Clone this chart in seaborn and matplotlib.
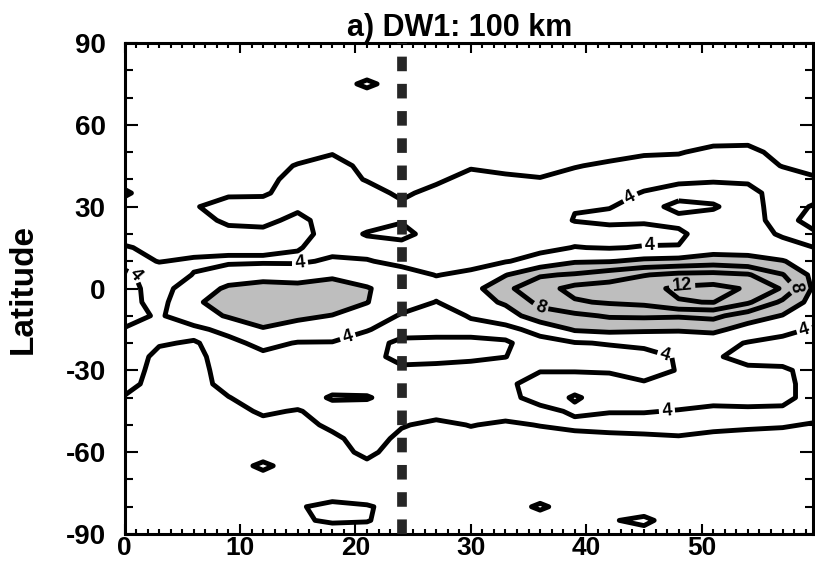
import numpy as np
import pandas as pd
import matplotlib
matplotlib.use("Agg")
import matplotlib.pyplot as plt
from matplotlib.ticker import MultipleLocator
import seaborn as sns

# ---------------------------------------------------
# Data: DW1 amplitude
# (3-day x 5-degree grid, rows north -> south)
# ---------------------------------------------------

day = [0, 3, 6, 9, 12, 15, 18, 21, 24, 27, 30, 33, 36, 39, 42, 45, 48, 51, 54, 57, 60]

lat_north = [90, 85, 80, 75, 70, 65, 60, 55, 50, 45, 40, 35]
lat_tropics = [30, 25, 20, 15, 10, 5, 0, -5, -10, -15, -20, -25, -30]
lat_south = [-35, -40, -45, -50, -55, -60, -65, -70, -75, -80, -85, -90]

amp_north = [
    [4.6, 4.6, 4.6, 4.6, 4.6, 4.6, 4.6, 4.6, 4.6, 4.6, 4.6, 4.6, 4.6, 4.6, 4.6, 4.6, 4.6, 4.6, 4.6, 4.6, 4.6],
    [4.6, 4.6, 4.6, 4.6, 4.6, 4.6, 4.6, 4.6, 4.6, 4.6, 4.6, 4.6, 4.6, 4.6, 4.6, 4.6, 4.6, 4.6, 4.6, 4.6, 4.6],
    [4.6, 4.6, 4.6, 4.6, 4.6, 4.6, 4.6, 4.6, 4.6, 4.6, 4.6, 4.6, 4.6, 4.6, 4.6, 4.6, 4.6, 4.6, 4.6, 4.6, 4.6],
    [4.6, 4.6, 4.6, 4.6, 4.6, 4.6, 4.6, 3.75, 4.6, 4.6, 4.6, 4.6, 4.6, 4.6, 4.6, 4.6, 4.6, 4.6, 4.6, 4.6, 4.6],
    [4.6, 4.6, 4.6, 4.6, 4.6, 4.6, 4.6, 4.6, 4.6, 4.6, 4.6, 4.6, 4.6, 4.6, 4.6, 4.6, 4.6, 4.6, 4.6, 4.6, 4.6],
    [4.6, 4.6, 4.6, 4.6, 4.6, 4.6, 4.6, 4.6, 4.6, 4.6, 4.6, 4.6, 4.6, 4.6, 4.6, 4.6, 4.6, 4.6, 4.6, 4.6, 4.6],
    [4.6, 4.6, 4.6, 4.6, 4.6, 4.6, 4.6, 4.6, 4.6, 4.6, 4.6, 4.6, 4.6, 4.6, 4.6, 4.6, 4.6, 4.6, 4.6, 4.6, 4.6],
    [4.6, 4.6, 4.6, 4.6, 4.6, 4.6, 4.6, 4.6, 4.6, 4.6, 4.6, 4.6, 4.6, 4.6, 4.6, 4.6, 4.6, 4.5, 4.5, 4.6, 4.6],
    [4.6, 4.6, 4.6, 4.6, 4.6, 4.6, 4.15, 4.6, 4.6, 4.6, 4.6, 4.6, 4.6, 4.6, 4.6, 4.2, 4.1, 3.6, 3.5, 4.6, 4.6],
    [4.6, 4.6, 4.6, 4.6, 4.6, 3.9, 3.3, 4.5, 4.6, 4.6, 4.2, 4.6, 4.6, 4.1, 3.7, 3.4, 3.4, 3.4, 3.4, 4.05, 4.4],
    [4.4, 4.6, 4.6, 4.6, 4.6, 3.3, 3.3, 4.1, 4.6, 4.3, 3.4, 3.6, 3.9, 3.4, 3.4, 3.4, 3.8, 3.9, 3.8, 3.4, 3.9],
    [3.85, 4.6, 4.6, 4.2, 4.2, 3.3, 3.3, 3.4, 4.3, 3.5, 3.4, 3.4, 3.4, 3.4, 3.4, 4.1, 4.4, 4.4, 4.4, 3.4, 3.5],
]

amp_tropics = [
    [4.4, 4.6, 4.1, 3.5, 3.4, 3.7, 3.3, 3.4, 3.7, 3.4, 3.4, 3.4, 3.8, 3.95, 3.95, 4.4, 3.7, 3.9, 4.5, 3.4, 4.2],
    [4.5, 4.6, 4.6, 3.7, 3.6, 4.4, 3.3, 3.4, 3.9, 3.4, 3.4, 3.4, 3.4, 4.05, 4.3, 4.2, 4.3, 4.4, 4.5, 3.5, 4.6],
    [4.5, 4.6, 4.6, 4.5, 4.4, 4.6, 3.3, 4.1, 4.4, 3.4, 3.4, 3.4, 3.3, 3.4, 3.4, 3.4, 3.8, 4.6, 4.7, 3.8, 3.9],
    [3.9, 4.3, 4.5, 4.4, 4.4, 4.1, 3.4, 3.4, 3.5, 3.4, 3.4, 3.4, 3.6, 4.05, 3.9, 4.1, 4.05, 5.0, 5.2, 4.6, 3.95],
    [3.5, 4.05, 3.8, 3.7, 3.7, 3.7, 4.3, 4.1, 3.6, 3.4, 3.5, 3.9, 4.6, 5.8, 5.9, 6.4, 6.6, 7.0, 6.6, 6.1, 5.0],
    [4.3, 3.3, 4.05, 5.0, 5.6, 5.4, 5.8, 5.3, 4.6, 3.95, 4.3, 5.9, 7.8, 8.2, 9.0, 9.9, 10.5, 10.6, 10.2, 8.1, 5.2],
    [4.6, 3.3, 5.0, 6.3, 6.4, 6.4, 6.5, 6.1, 5.3, 4.6, 5.2, 7.6, 9.2, 10.6, 10.9, 11.5, 12.3, 12.6, 11.8, 9.8, 5.2],
    [4.6, 3.4, 5.7, 6.8, 6.9, 6.9, 6.8, 6.05, 4.9, 3.95, 5.0, 6.3, 8.5, 9.8, 10.2, 10.5, 11.9, 12.05, 10.3, 7.6, 5.0],
    [4.6, 3.8, 5.0, 6.2, 6.6, 6.3, 5.95, 5.2, 3.8, 3.4, 4.1, 5.0, 7.2, 7.6, 8.2, 8.3, 8.2, 8.5, 7.0, 5.9, 4.6],
    [3.9, 3.5, 3.6, 4.5, 5.9, 5.4, 5.0, 4.1, 3.3, 3.6, 3.6, 3.5, 4.6, 6.2, 6.5, 6.3, 6.2, 6.5, 5.2, 4.4, 3.8],
    [3.3, 3.9, 4.1, 3.5, 4.5, 3.9, 3.9, 3.3, 4.4, 4.3, 4.3, 4.15, 3.4, 3.9, 4.1, 4.4, 4.6, 4.6, 3.9, 3.6, 3.5],
    [3.3, 4.3, 4.4, 3.3, 3.6, 3.3, 3.3, 3.3, 4.6, 4.3, 4.2, 4.02, 3.4, 3.4, 3.4, 3.4, 4.15, 4.2, 3.5, 3.5, 3.5],
    [3.3, 4.5, 4.6, 3.3, 3.3, 3.3, 3.3, 3.3, 3.6, 3.7, 3.6, 3.4, 3.95, 3.95, 3.9, 3.3, 4.1, 4.3, 4.3, 4.2, 3.5],
]

amp_south = [
    [3.5, 4.6, 4.6, 3.5, 3.3, 3.3, 3.4, 3.4, 3.4, 3.4, 3.4, 3.8, 4.4, 4.4, 4.4, 4.2, 4.3, 4.4, 4.4, 4.3, 3.5],
    [4.1, 4.6, 4.6, 4.05, 3.3, 3.3, 4.15, 4.1, 3.4, 3.4, 3.4, 3.6, 4.5, 3.9, 4.4, 4.4, 4.4, 4.3, 4.4, 4.3, 3.5],
    [4.5, 4.6, 4.6, 4.5, 3.8, 4.1, 3.4, 3.4, 3.4, 3.5, 3.4, 3.5, 3.6, 4.2, 4.05, 4.05, 3.95, 3.8, 3.8, 3.8, 3.6],
    [4.6, 4.6, 4.6, 4.6, 4.4, 4.5, 3.7, 3.4, 3.9, 4.3, 3.95, 4.2, 3.95, 3.7, 3.6, 3.6, 3.6, 3.7, 3.8, 3.9, 4.1],
    [4.6, 4.6, 4.6, 4.6, 4.6, 4.6, 4.3, 3.4, 4.3, 4.6, 4.4, 4.6, 4.5, 4.4, 4.3, 4.2, 4.1, 4.3, 4.4, 4.4, 4.6],
    [4.6, 4.6, 4.6, 4.6, 4.6, 4.6, 4.5, 3.7, 4.6, 4.6, 4.6, 4.6, 4.6, 4.6, 4.6, 4.6, 4.6, 4.6, 4.6, 4.6, 4.6],
    [4.6, 4.6, 4.6, 4.6, 3.75, 4.6, 4.6, 4.3, 4.6, 4.6, 4.6, 4.6, 4.6, 4.6, 4.6, 4.6, 4.6, 4.6, 4.6, 4.6, 4.6],
    [4.6, 4.6, 4.6, 4.6, 4.5, 4.6, 4.6, 4.5, 4.6, 4.6, 4.6, 4.6, 4.6, 4.6, 4.6, 4.6, 4.6, 4.6, 4.6, 4.6, 4.6],
    [4.6, 4.6, 4.6, 4.6, 4.6, 4.6, 4.5, 4.6, 4.6, 4.6, 4.6, 4.6, 4.6, 4.6, 4.6, 4.6, 4.6, 4.6, 4.6, 4.6, 4.6],
    [4.6, 4.6, 4.6, 4.6, 4.6, 4.1, 3.7, 3.9, 4.4, 4.6, 4.6, 4.6, 3.8, 4.6, 4.6, 4.6, 4.6, 4.6, 4.6, 4.6, 4.6],
    [4.6, 4.6, 4.6, 4.6, 4.6, 4.1, 3.9, 3.95, 4.4, 4.6, 4.6, 4.6, 4.6, 4.6, 4.1, 3.75, 4.6, 4.6, 4.6, 4.6, 4.6],
    [4.6, 4.6, 4.6, 4.6, 4.6, 4.5, 4.4, 4.4, 4.6, 4.6, 4.6, 4.6, 4.6, 4.6, 4.6, 4.4, 4.6, 4.6, 4.6, 4.6, 4.6],
]

plain_levels = [6, 10]
shade_above = 6
event_day = 24

x_ticks = [0, 10, 20, 30, 40, 50]
y_ticks = [-90, -60, -30, 0, 30, 60, 90]

title = "a) DW1: 100 km"
y_title = "Latitude"

# labelled levels and where their labels sit (snapped to the nearest line)
label_spots = {
    4: [(1.0, 5.0), (15.2, 9.3), (19.4, -18.6), (43.8, 33.5),
        (45.5, 15.4), (47.0, -22.0), (47.0, -45.6), (58.8, -13.8)],
    8: [(36.0, -7.5), (58.3, 1.0)],
    12: [(48.3, 1.2)],
}

# ---------------------------------------------------
# Style
# ---------------------------------------------------

sns.set_theme(style="ticks", rc={
    "axes.edgecolor": "black",
    "axes.labelcolor": "black",
    "text.color": "black",
    "xtick.color": "black",
    "ytick.color": "black",
})
plt.rcParams["font.family"] = ["Liberation Sans", "DejaVu Sans"]
plt.rcParams["font.weight"] = "bold"
plt.rcParams["axes.unicode_minus"] = False

field = pd.DataFrame(
    np.array(amp_north + amp_tropics + amp_south),
    index=lat_north + lat_tropics + lat_south,
    columns=day,
)

X = field.columns.values
Y = field.index.values
Z = field.values

# ---------------------------------------------------
# Plot
# ---------------------------------------------------

fig = plt.figure(figsize=(8.15, 5.66), dpi=100)
ax = fig.add_axes([0.1528, 0.0565, 0.8442, 0.8675])

ax.contourf(X, Y, Z, levels=[shade_above, Z.max() + 1], colors=["#bebebe"])

ax.contour(X, Y, Z, levels=plain_levels, colors="black", linewidths=3.5)

for lev, spots in label_spots.items():
    cs = ax.contour(X, Y, Z, levels=[lev], colors="black", linewidths=3.5)
    texts = ax.clabel(cs, manual=spots, inline=True,
                      inline_spacing=3, fmt="%d", fontsize=13)
    for t in texts:
        t.set_fontweight("bold")

ax.axvline(event_day, color="#262626", linewidth=7,
           linestyle=(0, (1.5, 1.3)), zorder=4)

ax.set_xlim(0, 59.6)
ax.set_ylim(-90, 90)

ax.set_xticks(x_ticks)
ax.set_yticks(y_ticks)
ax.xaxis.set_minor_locator(MultipleLocator(1))
ax.yaxis.set_minor_locator(MultipleLocator(10))

ax.tick_params(which="both", direction="in", top=True, right=True)
ax.tick_params(axis="x", which="major", length=7.2, width=1.5, pad=1.5, labelsize=19)
ax.tick_params(axis="x", which="minor", length=3.6, width=1.5)
ax.tick_params(axis="y", which="major", length=9.4, width=1.5, pad=13.5, labelsize=20)
ax.tick_params(axis="y", which="minor", length=5.8, width=1.5)

for spine in ax.spines.values():
    spine.set_linewidth(2.2)

ax.set_title(title, fontsize=22, fontweight="bold", pad=5, x=0.487)
ax.set_ylabel(y_title, fontsize=24, fontweight="bold", labelpad=19)

fig.savefig("out.png", dpi=100)
plt.close(fig)

print("✓ out.png saved")
